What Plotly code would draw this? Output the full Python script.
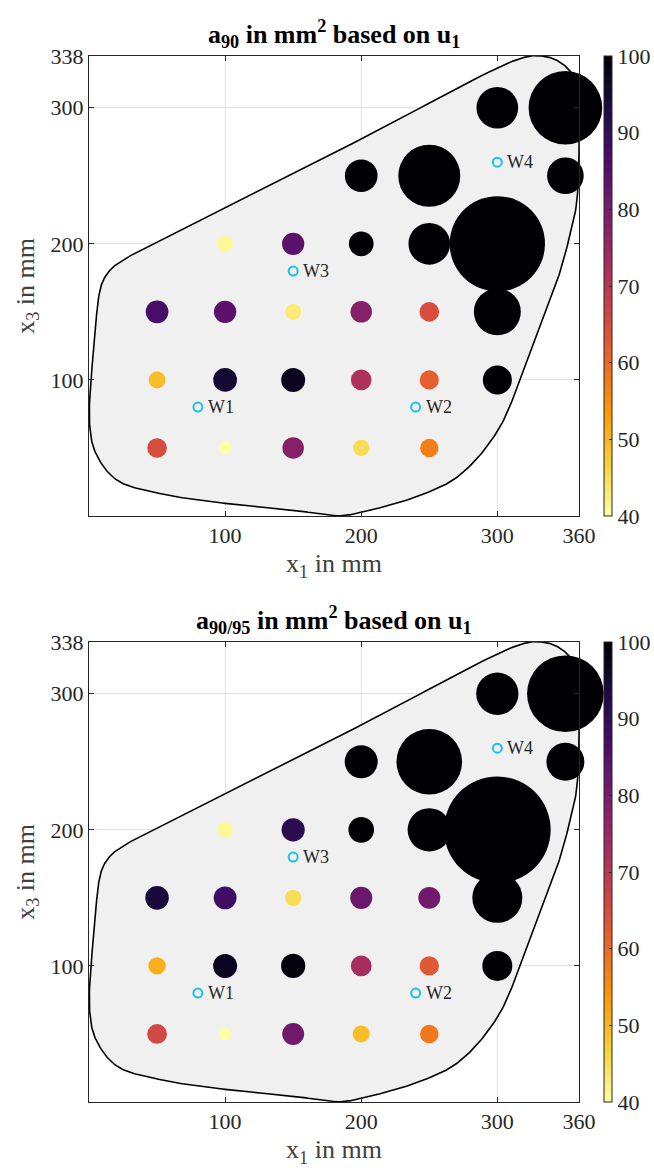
import numpy as np
import plotly.graph_objects as go

# ---------------- data ----------------
pos_x1 = [50, 100, 150, 200, 250,
          50, 100, 150, 200, 250, 300,
          50, 100, 150, 200, 250, 300,
          100, 150, 200, 250, 300,
          200, 250, 350,
          300, 350]
pos_x3 = [50, 50, 50, 50, 50,
          100, 100, 100, 100, 100, 100,
          150, 150, 150, 150, 150, 150,
          200, 200, 200, 200, 200,
          250, 250, 250,
          300, 300]

a90 = [65, 27, 78, 45, 57,
       49, 95, 97, 72, 62, 142,
       87, 84, 43, 78, 65, 373,
       41, 84, 103, 293, 1533,
       180, 649, 227,
       293, 915]

a90_95 = [66, 27, 81, 49, 58,
          51, 97, 99, 73, 63, 152,
          94, 88, 45, 82, 81, 422,
          41, 91, 111, 317, 1920,
          184, 727, 243,
          302, 992]

w_names = ["W1", "W2", "W3", "W4"]
w_x1 = [80, 240, 150, 300]
w_x3 = [80, 80, 180, 260]

# boundary of the specimen (points on its outline, in mm)
outline_x1 = [185, 201, 240.7, 271, 300.5, 322, 344, 352, 358, 360, 360.3, 355.8,
              346, 333, 318, 200, 81.6, 42.4, 25.2, 16.7, 10.5, 8.1, 6.1, 4.9, 3.5,
              0.4, 5, 20.3, 51, 100, 150]
outline_x3 = [0.2, 3, 14.2, 29, 63, 115, 173, 200.8, 227.8, 264.5, 289, 323,
              333.5, 338, 336.5, 277, 217.4, 197.8, 188.1, 182, 173.4, 166, 153.8, 139.1, 124.4,
              68, 46, 26.5, 16.7, 9.3, 4.3]

titles = ["<b>a<sub>90</sub> in mm<sup>2</sup> based on u<sub>1</sub></b>",
          "<b>a<sub>90/95</sub> in mm<sup>2</sup> based on u<sub>1</sub></b>"]

x_ticks = [100, 200, 300, 360]
y_ticks = [100, 200, 300, 338]
cbar_ticks = [40, 50, 60, 70, 80, 90, 100]

# ---------------- style / layout ----------------
W, H = 654, 1173
ML, MR, MT, MB = 89, 75, 56, 71
X_RANGE = [0, 360]
Y_RANGE = [0, 338]
PLOT_W = W - ML - MR
PX_PER_MM = PLOT_W / (X_RANGE[1] - X_RANGE[0])
SIZE_K = 3.2  # diameter^2 (mm^2) per unit of value

FONT = "Liberation Serif"
AX_COL = "#262626"

inferno = ['#000004', '#1b0c41', '#4a0c6b', '#781c6d', '#a52c60',
           '#cf4446', '#ed6925', '#fb9b06', '#f7d13d', '#fcffa4']
inferno_r = inferno[::-1]
cscale = [[i / (len(inferno_r) - 1), c] for i, c in enumerate(inferno_r)]


def closed_catmull_rom(xs, ys, n=24, alpha=0.5):
    P = np.column_stack([xs, ys]).astype(float)
    N = len(P)
    out = []
    for i in range(N):
        p0, p1, p2, p3 = P[(i - 1) % N], P[i], P[(i + 1) % N], P[(i + 2) % N]
        t0 = 0.0
        t1 = t0 + np.linalg.norm(p1 - p0) ** alpha
        t2 = t1 + np.linalg.norm(p2 - p1) ** alpha
        t3 = t2 + np.linalg.norm(p3 - p2) ** alpha
        for t in np.linspace(t1, t2, n, endpoint=False):
            a1 = (t1 - t) / (t1 - t0) * p0 + (t - t0) / (t1 - t0) * p1
            a2 = (t2 - t) / (t2 - t1) * p1 + (t - t1) / (t2 - t1) * p2
            a3 = (t3 - t) / (t3 - t2) * p2 + (t - t2) / (t3 - t2) * p3
            b1 = (t2 - t) / (t2 - t0) * a1 + (t - t0) / (t2 - t0) * a2
            b2 = (t3 - t) / (t3 - t1) * a2 + (t - t1) / (t3 - t1) * a3
            c = (t2 - t) / (t2 - t1) * b1 + (t - t1) / (t2 - t1) * b2
            out.append(c)
    out.append(out[0])
    out = np.array(out)
    return out[:, 0], out[:, 1]


bx, by = closed_catmull_rom(outline_x1, outline_x3)

plot_h_total = H - MT - MB
top_dom = [(plot_h_total - 460) / plot_h_total, 1.0]
bot_dom = [0.0, 460 / plot_h_total]
domains = [top_dom, bot_dom]

fig = go.Figure()
annotations = []

for k, vals in enumerate([a90, a90_95]):
    xa = "x" if k == 0 else "x2"
    ya = "y" if k == 0 else "y2"
    fig.add_trace(go.Scatter(
        x=bx, y=by, mode="lines", line=dict(color="black", width=1.6),
        fill="toself", fillcolor="#F0F0F0", xaxis=xa, yaxis=ya,
        showlegend=False, hoverinfo="skip"))
    v = np.array(vals, dtype=float)
    sizes = np.sqrt(SIZE_K * v) * PX_PER_MM
    dom = domains[k]
    fig.add_trace(go.Scatter(
        x=pos_x1, y=pos_x3, mode="markers", xaxis=xa, yaxis=ya,
        cliponaxis=False, showlegend=False,
        marker=dict(size=sizes, color=v, colorscale=cscale, cmin=40, cmax=100,
                    line=dict(width=0), opacity=1,
                    showscale=True,
                    colorbar=dict(
                        x=(604 - ML) / PLOT_W, xanchor="left", xpad=0, ypad=0,
                        y=(dom[0] + dom[1]) / 2, yanchor="middle",
                        len=460, lenmode="pixels", thickness=8,
                        outlinewidth=1, outlinecolor=AX_COL,
                        tickvals=cbar_ticks, ticks="inside", ticklen=3,
                        tickcolor=AX_COL,
                        tickfont=dict(family=FONT, size=22, color=AX_COL)))))
    fig.add_trace(go.Scatter(
        x=w_x1, y=w_x3, mode="markers", xaxis=xa, yaxis=ya, showlegend=False,
        marker=dict(symbol="circle-open", size=9, color="#19C1EF",
                    line=dict(width=2, color="#19C1EF"))))
    for nm, wx, wy in zip(w_names, w_x1, w_x3):
        annotations.append(dict(x=wx, y=wy, xref=xa, yref=ya, text=nm, showarrow=False,
                                xanchor="left", xshift=8,
                                font=dict(family=FONT, size=18, color=AX_COL)))
    annotations.append(dict(x=0.5, y=dom[1], xref="paper", yref="paper", text=titles[k],
                            showarrow=False, xanchor="center", yanchor="bottom", yshift=2,
                            font=dict(family=FONT, size=26, color="black")))

axis_common = dict(showline=True, linecolor=AX_COL, linewidth=1, mirror="ticks",
                   ticks="inside", ticklen=5, tickcolor=AX_COL,
                   showgrid=True, gridcolor="#E2E2E2", gridwidth=1, zeroline=False,
                   tickfont=dict(family=FONT, size=22, color=AX_COL))

layout = dict(width=W, height=H, margin=dict(l=ML, r=MR, t=MT, b=MB, autoexpand=False),
              plot_bgcolor="white", paper_bgcolor="white", annotations=annotations)
for k in range(2):
    sfx = "" if k == 0 else "2"
    layout["xaxis" + sfx] = dict(axis_common, range=X_RANGE, tickvals=x_ticks,
                                 domain=[0, 1], anchor="y" + sfx,
                                 title=dict(text="x<sub>1</sub> in mm", standoff=6,
                                            font=dict(family=FONT, size=26, color="#404040")))
    layout["yaxis" + sfx] = dict(axis_common, range=Y_RANGE, tickvals=y_ticks,
                                 domain=domains[k], anchor="x" + sfx,
                                 title=dict(text="x<sub>3</sub> in mm", standoff=8,
                                            font=dict(family=FONT, size=26, color="#404040")))
fig.update_layout(**layout)

fig.write_html("out.html", config={"displayModeBar": False},
               post_script="document.body.style.margin='0';")
